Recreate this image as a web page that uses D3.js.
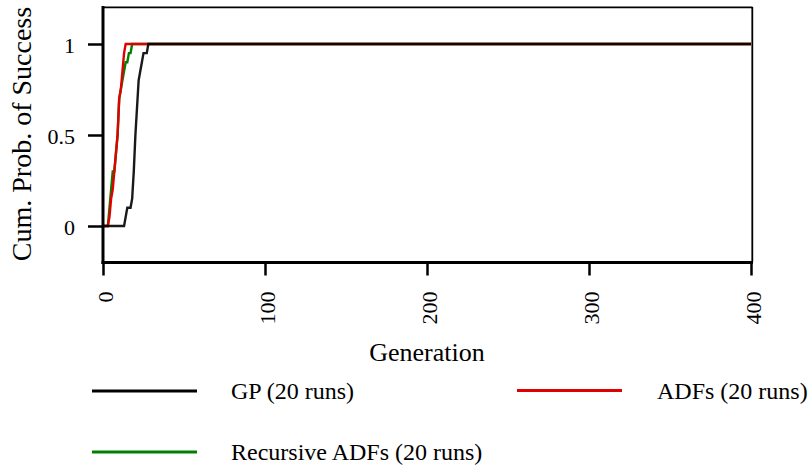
<!DOCTYPE html>
<html>
<head>
<meta charset="utf-8">
<script src="https://cdnjs.cloudflare.com/ajax/libs/d3/7.8.5/d3.min.js"></script>
<style>
  body { margin: 0; background: #fff; }
  svg text { font-family: "Liberation Serif", "Times New Roman", serif; fill: #000; }
</style>
</head>
<body>
<svg id="chart" width="811" height="472"></svg>
<script>
// generation / cumulative probability points
var gpGens = [0, 13, 14, 15, 17, 18, 19, 20, 21, 22, 23, 24, 25, 26, 27, 28, 400];
var gpProbs = [0, 0, 0.05, 0.1, 0.1, 0.15, 0.3, 0.5, 0.65, 0.8, 0.85, 0.9, 0.95, 0.95, 0.95, 1, 1];

var adfGens = [0, 3, 4, 5, 6, 7, 8, 9, 10, 11, 12, 13, 14, 400];
var adfProbs = [0, 0, 0.05, 0.15, 0.2, 0.3, 0.4, 0.5, 0.7, 0.75, 0.85, 0.95, 1, 1];

var recGens = [0, 3, 4, 5, 6, 7, 8, 9, 10, 11, 12, 13, 14, 15, 16, 17, 18, 400];
var recProbs = [0, 0, 0.1, 0.2, 0.3, 0.3, 0.4, 0.5, 0.7, 0.75, 0.8, 0.85, 0.9, 0.9, 0.95, 0.95, 1, 1];

var xTicks = [0, 100, 200, 300, 400];
var yTicks = [0, 0.5, 1];

var seriesNames = ["GP (20 runs)", "ADFs (20 runs)", "Recursive ADFs (20 runs)"];
var seriesColors = ["#000000", "#e00000", "#008000"];

var plotLeft = 103, plotRight = 751, plotTop = 7.6, plotBottom = 262.4;

var svg = d3.select("#chart");

var x = d3.scaleLinear().domain([0, 400]).range([plotLeft, plotRight]);
var y = d3.scaleLinear().domain([-0.2, 1.2]).range([plotBottom, plotTop]);

function pts(gens, probs) {
  return gens.map(function(g, i) { return [g, probs[i]]; });
}

var line = d3.line()
  .x(function(d) { return x(d[0]); })
  .y(function(d) { return y(d[1]); });

// curves: green, red, then black on top
svg.append("path").datum(pts(recGens, recProbs))
  .attr("d", line).attr("fill", "none")
  .attr("stroke", seriesColors[2]).attr("stroke-width", 2.4);
svg.append("path").datum(pts(adfGens, adfProbs))
  .attr("d", line).attr("fill", "none")
  .attr("stroke", seriesColors[1]).attr("stroke-width", 2.4);
svg.append("path").datum(pts(gpGens, gpProbs))
  .attr("d", line).attr("fill", "none")
  .attr("stroke", seriesColors[0]).attr("stroke-width", 2.4)
  .attr("stroke-opacity", 0.9);

// frame
svg.append("line").attr("x1", plotLeft).attr("x2", 752.5).attr("y1", 7.3).attr("y2", 7.3)
  .attr("stroke", "#000").attr("stroke-width", 1.8);
svg.append("line").attr("x1", 752.3).attr("x2", 752.3).attr("y1", 7).attr("y2", 262)
  .attr("stroke", "#000").attr("stroke-width", 1.8);

// y axis
var yAxis = svg.append("g")
  .attr("transform", "translate(" + plotLeft + ",0)")
  .call(d3.axisLeft(y).tickValues(yTicks).tickFormat(d3.format("")).tickSize(15).tickPadding(13));
yAxis.select(".domain").remove();
yAxis.selectAll(".tick line").attr("stroke", "#000").attr("stroke-width", 2.5);
yAxis.selectAll(".tick text")
  .style("font-size", "22px")
  .style("font-family", "'Liberation Serif', serif")
  .attr("dy", "0.38em");

// x axis
var xAxis = svg.append("g")
  .attr("transform", "translate(0,262.5)")
  .call(d3.axisBottom(x).tickValues(xTicks).tickSize(13));
xAxis.select(".domain").remove();
xAxis.selectAll(".tick line").attr("stroke", "#000").attr("stroke-width", 2.5);
xAxis.selectAll(".tick text")
  .style("font-size", "22px")
  .style("font-family", "'Liberation Serif', serif")
  .attr("transform", "rotate(-90)")
  .attr("text-anchor", "end")
  .attr("x", -29)
  .attr("y", 0)
  .attr("dy", "0.41em");

// left and bottom spines (thicker)
svg.append("line").attr("x1", plotLeft).attr("x2", plotLeft).attr("y1", 6).attr("y2", 264)
  .attr("stroke", "#000").attr("stroke-width", 3);
svg.append("line").attr("x1", plotLeft - 1.5).attr("x2", 753).attr("y1", 262.5).attr("y2", 262.5)
  .attr("stroke", "#000").attr("stroke-width", 3);

// axis titles
svg.append("text")
  .attr("x", (plotLeft + plotRight) / 2).attr("y", 361)
  .attr("text-anchor", "middle")
  .style("font-size", "26px")
  .text("Generation");

svg.append("text")
  .attr("transform", "translate(31,134) rotate(-90)")
  .attr("text-anchor", "middle")
  .style("font-size", "28px")
  .text("Cum. Prob. of Success");

// legend
var legendItems = [
  { name: seriesNames[0], color: seriesColors[0], lx: 92, ly: 391, tx: 231 },
  { name: seriesNames[1], color: seriesColors[1], lx: 517, ly: 390.5, tx: 657 },
  { name: seriesNames[2], color: seriesColors[2], lx: 92, ly: 452, tx: 231 }
];
var leg = svg.append("g").selectAll("g").data(legendItems).enter().append("g");
leg.append("line")
  .attr("x1", function(d) { return d.lx; })
  .attr("x2", function(d) { return d.lx + 105; })
  .attr("y1", function(d) { return d.ly; })
  .attr("y2", function(d) { return d.ly; })
  .attr("stroke", function(d) { return d.color; })
  .attr("stroke-width", 2.8);
leg.append("text")
  .attr("x", function(d) { return d.tx; })
  .attr("y", function(d) { return d.ly + 8; })
  .style("font-size", "24px")
  .text(function(d) { return d.name; });
</script>
</body>
</html>
